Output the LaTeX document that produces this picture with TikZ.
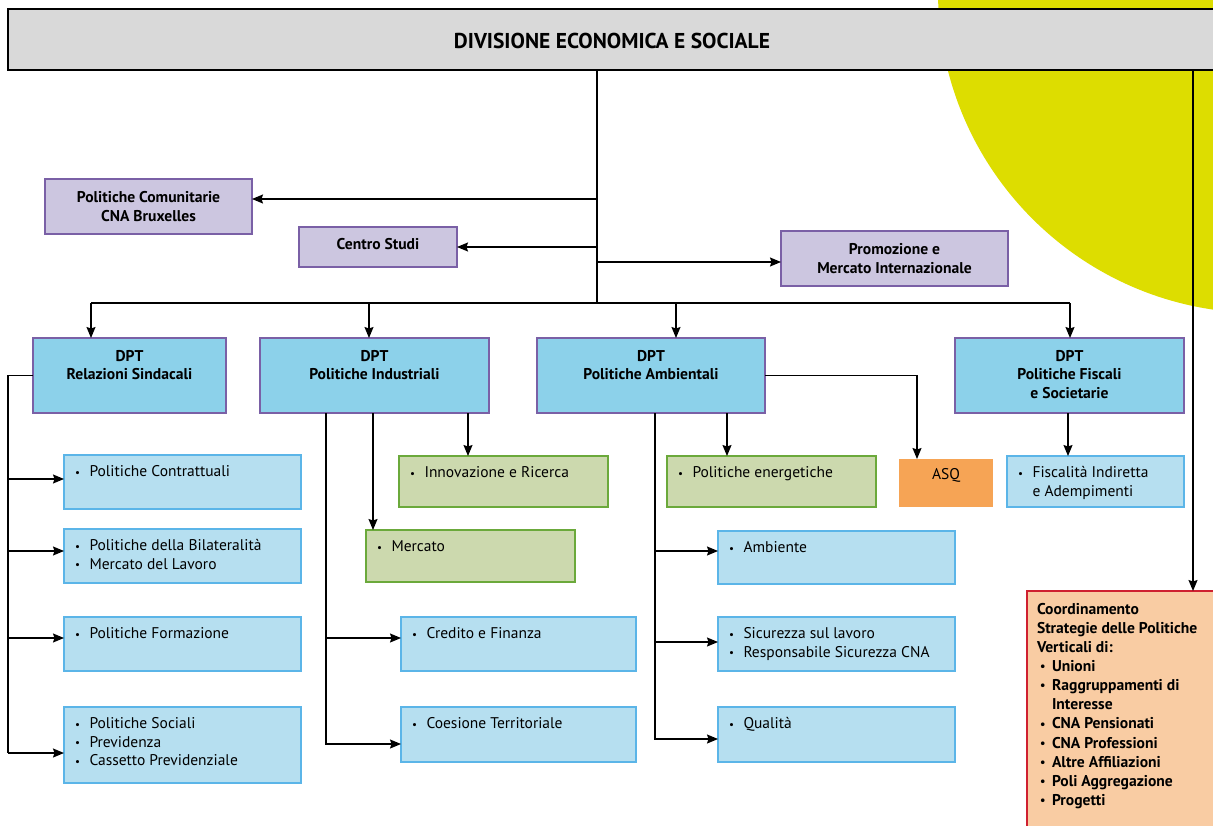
\documentclass[tikz,border=0pt]{standalone}
\usepackage{fontspec}
\setmainfont{PT Sans}
\usetikzlibrary{arrows.meta,calc}
\definecolor{yel}{HTML}{DDDD00}
\definecolor{ttlgray}{HTML}{D9D9D9}
\definecolor{pfill}{HTML}{CCC6E0}
\definecolor{pborder}{HTML}{7A60A6}
\definecolor{dfill}{HTML}{8CD1EA}
\definecolor{sfill}{HTML}{B6DFF0}
\definecolor{sborder}{HTML}{5BB5E8}
\definecolor{gfill}{HTML}{CCD9AE}
\definecolor{gborder}{HTML}{6BA93B}
\definecolor{ofill}{HTML}{F6A455}
\definecolor{cfill}{HTML}{F9CCA3}
\definecolor{cborder}{HTML}{CF2030}
\newcommand\bx[6]{\node[#2, anchor=north west, minimum width={(#5-#3)*1pt}, minimum height={(#6-#4)*1pt}] (#1) at (#3,#4) {};}
\newcommand\itm{\strut\makebox[14.5pt][l]{\raisebox{0.6pt}{\fontsize{11}{11}\selectfont•}}}
\newcommand\bitm{\strut\hspace*{3pt}\makebox[12pt][l]{\raisebox{0.8pt}{\fontsize{12}{12}\selectfont•}}}
\begin{document}
\begin{tikzpicture}[x=1pt,y=-1pt,
  box/.style={draw, inner sep=0pt, outer sep=0pt, line width=2.7pt},
  ttl/.style={box, draw=black, fill=ttlgray, line width=2.6pt},
  pbox/.style={box, draw=pborder, fill=pfill},
  dbox/.style={box, draw=pborder, fill=dfill},
  sbox/.style={box, draw=sborder, fill=sfill},
  gbox/.style={box, draw=gborder, fill=gfill},
  obox/.style={box, draw=none, fill=ofill},
  cbox/.style={box, draw=cborder, fill=cfill, line width=2.2pt},
  txt/.style={inner sep=0pt, outer sep=0pt, anchor=north west, align=left, font=\fontsize{15.5}{18.5}\selectfont},
  ctxt/.style={inner sep=0pt, outer sep=0pt, anchor=north west, align=left, font=\bfseries\fontsize{15.6}{19.1}\selectfont},
  btxt/.style={inner sep=0pt, outer sep=0pt, align=center, font=\bfseries\fontsize{15.6}{18.5}\selectfont},
  ln/.style={line width=1.3pt},
  arr/.style={line width=1.3pt, -{Stealth[length=11pt,width=9pt,inset=1.5pt]}}
]
\clip (0,0) rectangle (1213,825);
\fill[yel] (1260,-9) circle[radius=322pt];

% title
\bx{top}{ttl}{8}{9}{1240}{70}
\node[inner sep=0pt, font=\bfseries\fontsize{21.5}{24}\selectfont] (toptxt) at (612,41) {DIVISIONE ECONOMICA E SOCIALE};

% staff boxes
\bx{pc}{pbox}{45}{179}{252}{234}
\node[btxt] (pct) at (pc.center) {Politiche Comunitarie\\CNA Bruxelles};
\bx{cs}{pbox}{299}{227}{457}{267}
\node[btxt] (cst) at ([yshift=3pt]cs.center) {Centro Studi};
\bx{pm}{pbox}{781}{231}{1008}{286}
\node[btxt] (pmt) at (pm.center) {Promozione e\\Mercato Internazionale};

% DPT boxes
\bx{rs}{dbox}{33}{338}{226}{413}
\bx{pi}{dbox}{260}{338}{489}{413}
\bx{pa}{dbox}{537}{338}{765}{413}
\bx{pf}{dbox}{955}{338}{1184}{413}
\node[btxt, anchor=north] (rst) at ([yshift=-10.5pt]rs.north) {\strut DPT\\Relazioni Sindacali};
\node[btxt, anchor=north] (pit) at ([yshift=-10.5pt]pi.north) {\strut DPT\\Politiche Industriali};
\node[btxt, anchor=north] (pat) at ([yshift=-10.5pt]pa.north) {\strut DPT\\Politiche Ambientali};
\node[btxt, anchor=north] (pft) at ([yshift=-10.5pt]pf.north) {\strut DPT\\Politiche Fiscali\\e Societarie};

% left column
\bx{c1}{sbox}{64}{455}{301}{509}
\bx{c2}{sbox}{64}{529}{301}{583}
\bx{c3}{sbox}{64}{617}{301}{671}
\bx{c4}{sbox}{64}{707}{301}{783}
\node[txt] (c1t) at ([xshift=11pt,yshift=-9pt]c1.north west) {\itm Politiche Contrattuali};
\node[txt] (c2t) at ([xshift=11pt,yshift=-9pt]c2.north west) {\itm Politiche della Bilateralità\\\itm Mercato del Lavoro};
\node[txt] (c3t) at ([xshift=11pt,yshift=-9pt]c3.north west) {\itm Politiche Formazione};
\node[txt] (c4t) at ([xshift=11pt,yshift=-9pt]c4.north west) {\itm Politiche Sociali\\\itm Previdenza\\\itm Cassetto Previdenziale};

% industriali
\bx{in}{gbox}{399}{456}{608}{507}
\bx{me}{gbox}{366}{530}{575}{582}
\bx{cf}{sbox}{401}{617}{636}{671}
\bx{ct}{sbox}{401}{707}{636}{762}
\node[txt] (int) at ([xshift=11pt,yshift=-9pt]in.north west) {\itm Innovazione e Ricerca};
\node[txt] (met) at ([xshift=11pt,yshift=-9pt]me.north west) {\itm Mercato};
\node[txt] (cft) at ([xshift=11pt,yshift=-9pt]cf.north west) {\itm Credito e Finanza};
\node[txt] (ctt) at ([xshift=11pt,yshift=-9pt]ct.north west) {\itm Coesione Territoriale};

% ambientali
\bx{en}{gbox}{667}{456}{876}{507}
\bx{asq}{obox}{899}{459}{993}{507}
\bx{am}{sbox}{718}{531}{955}{584}
\bx{si}{sbox}{718}{617}{955}{671}
\bx{qu}{sbox}{718}{707}{955}{762}
\node[txt] (ent) at ([xshift=11pt,yshift=-9pt]en.north west) {\itm Politiche energetiche};
\node[txt, anchor=north] (asqt) at ([yshift=-8pt]asq.north) {\strut ASQ};
\node[txt] (amt) at ([xshift=11pt,yshift=-9pt]am.north west) {\itm Ambiente};
\node[txt] (sit) at ([xshift=11pt,yshift=-9pt]si.north west) {\itm Sicurezza sul lavoro\\\itm Responsabile Sicurezza CNA};
\node[txt] (qut) at ([xshift=11pt,yshift=-9pt]qu.north west) {\itm Qualità};

% fiscali
\bx{fi}{sbox}{1007}{456}{1184}{507}
\node[txt] (fit) at ([xshift=11pt,yshift=-9pt]fi.north west) {\itm Fiscalità Indiretta\\\strut\hspace*{14.5pt}e Adempimenti};

% coordinamento
\bx{co}{cbox}{1027}{591}{1240}{840}
\node[ctxt] (cot) at ([xshift=10pt,yshift=-10pt]co.north west) {\strut Coordinamento\\\strut Strategie delle Politiche\\\strut Verticali di:\\\bitm Unioni\\\bitm Raggruppamenti di\\\strut\hspace*{15pt}Interesse\\\bitm CNA Pensionati\\\bitm CNA Professioni\\\bitm Altre Affiliazioni\\\bitm Poli Aggregazione\\\bitm Progetti};

% connectors
\coordinate (tr) at (597,303);
\draw[ln] (top.south -| tr) -- (tr);
\coordinate (tpc) at (597,199);
\draw[arr] (tpc) -- (tpc -| pc.east);
\draw[arr] (cs.east -| tr) -- (cs.east);
\coordinate (tpm) at (597,262);
\draw[arr] (tpm) -- (tpm -| pm.west);

\coordinate (b1) at (91,303);
\coordinate (b2) at (369,303);
\coordinate (b3) at (676,303);
\coordinate (b4) at (1070,303);
\draw[ln] (b1) -- (b4);
\draw[arr] (b1) -- (b1 |- rs.north);
\draw[arr] (b2) -- (b2 |- pi.north);
\draw[arr] (b3) -- (b3 |- pa.north);
\draw[arr] (b4) -- (b4 |- pf.north);

\coordinate (l1) at (8,479);
\coordinate (l2) at (8,551);
\coordinate (l3) at (8,638);
\coordinate (l4) at (8,753);
\draw[ln] (rs.west) -| (l4);
\draw[arr] (l1) -- (l1 -| c1.west);
\draw[arr] (l2) -- (l2 -| c2.west);
\draw[arr] (l3) -- (l3 -| c3.west);
\draw[arr] (l4) -- (l4 -| c4.west);

\coordinate (pv) at (326,744);
\coordinate (pv2) at (326,638);
\draw[arr] (pi.south -| pv) -- (pv) -- (pv -| ct.west);
\draw[arr] (pv2) -- (pv2 -| cf.west);
\coordinate (xm) at (373,0);
\coordinate (xi) at (468,0);
\draw[arr] (pi.south -| xm) -- (me.north -| xm);
\draw[arr] (pi.south -| xi) -- (in.north -| xi);

\coordinate (av) at (655,739);
\coordinate (av1) at (655,551);
\coordinate (av2) at (655,642);
\draw[arr] (pa.south -| av) -- (av) -- (av -| qu.west);
\draw[arr] (av1) -- (av1 -| am.west);
\draw[arr] (av2) -- (av2 -| si.west);
\coordinate (xe) at (727,0);
\draw[arr] (pa.south -| xe) -- (en.north -| xe);
\coordinate (xa) at (917,0);
\draw[arr] (pa.east) -| (xa |- asq.north);

\coordinate (xf) at (1068,0);
\draw[arr] (pf.south -| xf) -- (fi.north -| xf);
\coordinate (xr) at (1193,0);
\draw[arr] (top.south -| xr) -- (co.north -| xr);
\end{tikzpicture}
\end{document}
